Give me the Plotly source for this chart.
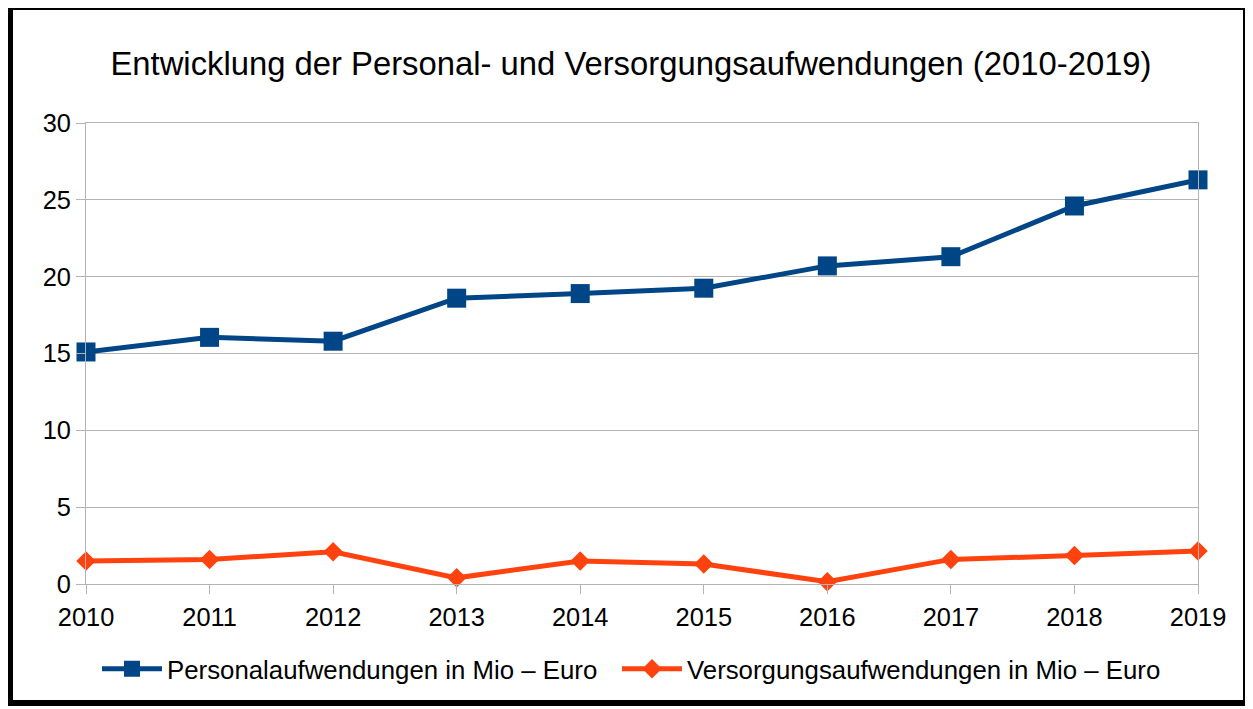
import plotly.graph_objects as go

years = [2010, 2011, 2012, 2013, 2014, 2015, 2016, 2017, 2018, 2019]
personal = [15.1, 16.05, 15.8, 18.6, 18.9, 19.25, 20.7, 21.3, 24.6, 26.3]
versorgung = [1.5, 1.6, 2.1, 0.4, 1.5, 1.3, 0.15, 1.6, 1.85, 2.15]
y_ticks = [0, 5, 10, 15, 20, 25, 30]

title = "Entwicklung der Personal- und Versorgungsaufwendungen (2010-2019)"
name_p = "Personalaufwendungen in Mio – Euro"
name_v = "Versorgungsaufwendungen in Mio – Euro"

fig = go.Figure()
fig.add_trace(go.Scatter(
    x=years, y=personal, name=name_p, mode="lines+markers",
    line=dict(color="#004586", width=5),
    marker=dict(symbol="square", size=19, color="#004586"),
    cliponaxis=False, legend="legend",
))
fig.add_trace(go.Scatter(
    x=years, y=versorgung, name=name_v, mode="lines+markers",
    line=dict(color="#ff420e", width=5),
    marker=dict(symbol="diamond", size=15, color="#ff420e"),
    cliponaxis=False, legend="legend2",
))

# page body has an 8px margin at top/left; work in page pixels
O = 8
PW, PH = 1253, 709
W, H = PW - O, PH - O
X0, X1, Y0, Y1 = 86, 1198, 123, 584   # plot area in page pixels
L, R, T, B = X0 - O, PW - X1, Y0 - O, PH - Y1
pw, ph = X1 - X0, Y1 - Y0

def px_x(x):
    return (x - X0) / pw

def px_y(y):
    return (Y1 - y) / ph

leg_common = dict(orientation="h", xanchor="left", y=px_y(669), yanchor="middle",
                  font=dict(size=25.8), itemwidth=60, bgcolor="rgba(0,0,0,0)")

fig.update_layout(
    width=W, height=H,
    margin=dict(l=L, r=R, t=T, b=B),
    paper_bgcolor="white", plot_bgcolor="white",
    font=dict(family="Liberation Sans, Arial, sans-serif", size=25.4, color="black"),
    title=dict(text=title, x=(631 - O) / W, xanchor="center", y=1 - (64 - O) / H, yanchor="middle",
               font=dict(size=32.8, color="black")),
    showlegend=True,
    legend=dict(x=px_x(97), **leg_common),
    legend2=dict(x=px_x(617), **leg_common),
    shapes=[dict(type="rect", xref="paper", yref="paper",
                 x0=px_x(10), x1=px_x(1246), y0=px_y(7), y1=px_y(703),
                 line=dict(color="black", width=6), fillcolor="rgba(0,0,0,0)", layer="below")],
)
fig.update_xaxes(
    range=[2010, 2019], tickmode="array", tickvals=years, ticktext=[str(y) for y in years],
    showgrid=False, showline=True, linecolor="#b3b3b3", linewidth=1, mirror=True,
    ticks="outside", ticklen=9, tickcolor="#b3b3b3", zeroline=False, ticklabelstandoff=2,
)
fig.update_yaxes(
    range=[0, 30], tickmode="array", tickvals=y_ticks,
    showgrid=True, gridcolor="#b3b3b3", gridwidth=1,
    showline=True, linecolor="#b3b3b3", linewidth=1, mirror=True,
    ticks="outside", ticklen=9, tickcolor="#b3b3b3", zeroline=False,
)

fig.write_html("out.html")
